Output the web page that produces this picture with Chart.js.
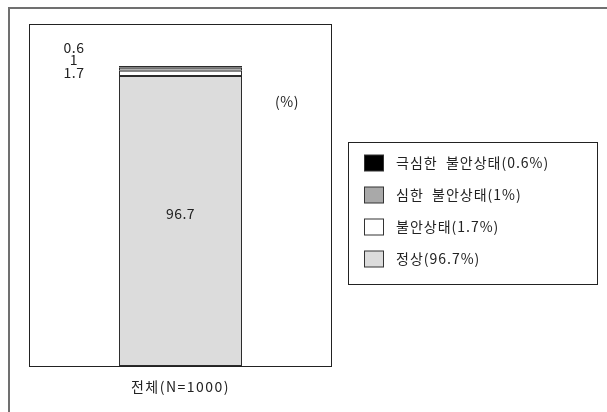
<!DOCTYPE html>
<html>
<head>
<meta charset="utf-8">
<script src="https://cdn.jsdelivr.net/npm/chart.js@4/dist/chart.umd.min.js"></script>
<style>
  html, body { margin: 0; padding: 0; background: #fff; }
  #wrap { width: 607px; height: 412px; position: relative; }
</style>
</head>
<body>
<div id="wrap"><canvas id="c"></canvas></div>
<script>
// 불안상태 분포 (전체 N=1000), 단위 %
const categories = ["전체(N=1000)"];
const seriesNames = ["정상", "불안상태", "심한 불안상태", "극심한 불안상태"];
const seriesValues = [96.7, 1.7, 1, 0.6];
const seriesColors = ["#dcdcdc", "#ffffff", "#a9a9a9", "#000000"];

const FONT = "'Noto Sans CJK KR', 'Noto Sans', sans-serif";

const datasets = seriesNames.map((name, i) => ({
  label: name,
  data: [seriesValues[i]],
  backgroundColor: seriesColors[i],
  borderColor: "#2b2b2b",
  borderWidth: 1,
  borderSkipped: false,
  barPercentage: 1,
  categoryPercentage: 0.406,
}));

// 바깥 테두리, 플롯 박스, 값 라벨, 범례를 직접 그림
const decorPlugin = {
  id: "decor",
  beforeDraw(chart) {
    const ctx = chart.ctx;
    ctx.save();
    ctx.strokeStyle = "#707070";
    ctx.lineWidth = 2;
    ctx.beginPath();
    ctx.moveTo(9, 412);
    ctx.lineTo(9, 8);
    ctx.lineTo(607, 8);
    ctx.stroke();
    ctx.restore();
  },
  afterDraw(chart) {
    const ctx = chart.ctx;
    const a = chart.chartArea;
    ctx.save();
    // 플롯 박스
    ctx.strokeStyle = "#222";
    ctx.lineWidth = 1;
    ctx.strokeRect(a.left + 0.5, a.top + 0.5, a.right - a.left - 1, a.bottom - a.top);

    ctx.fillStyle = "#222";
    ctx.font = "14px " + FONT;
    ctx.letterSpacing = "0.5px";
    ctx.textAlign = "center";
    ctx.textBaseline = "middle";

    // 작은 값 라벨은 막대 왼쪽에 쌓아서 표시
    const small = [3, 2, 1];
    small.forEach((idx, k) => {
      ctx.fillText(String(seriesValues[idx]), 74, 47.5 + k * 12.5);
    });

    // 정상 값 라벨은 막대 안
    const bar = chart.getDatasetMeta(0).data[0];
    ctx.fillText(String(seriesValues[0]), bar.x, 214);

    ctx.fillText("(%)", 287, 102);

    // 항목 라벨 (x축)
    ctx.letterSpacing = "1.5px";
    ctx.fillText(categories[0], bar.x, 387);

    // 범례
    const lx = 348, ly = 142, lw = 249, lh = 142;
    ctx.strokeStyle = "#222";
    ctx.strokeRect(lx + 0.5, ly + 0.5, lw, lh);
    ctx.textAlign = "left";
    ctx.letterSpacing = "1px";
    for (let r = 0; r < seriesNames.length; r++) {
      const i = seriesNames.length - 1 - r;
      const cy = 163 + r * 32;
      ctx.fillStyle = seriesColors[i];
      ctx.fillRect(364.5, cy - 8, 19, 16);
      ctx.strokeStyle = "#333";
      ctx.strokeRect(364.5, cy - 8, 19, 16);
      ctx.fillStyle = "#222";
      ctx.fillText(seriesNames[i].replace(" ", "  ") + "(" + seriesValues[i] + "%)", 396, cy);
    }
    ctx.restore();
  },
};

new Chart(document.getElementById("c"), {
  type: "bar",
  data: { labels: categories, datasets: datasets },
  options: {
    responsive: true,
    maintainAspectRatio: false,
    animation: false,
    layout: { padding: { left: 29, right: 275, top: 24, bottom: 46 } },
    plugins: {
      legend: { display: false },
      tooltip: { enabled: false },
    },
    scales: {
      x: {
        stacked: true,
        display: false,
      },
      y: {
        stacked: true,
        min: 0,
        max: 114,
        display: false,
      },
    },
  },
  plugins: [decorPlugin],
});
</script>
</body>
</html>
